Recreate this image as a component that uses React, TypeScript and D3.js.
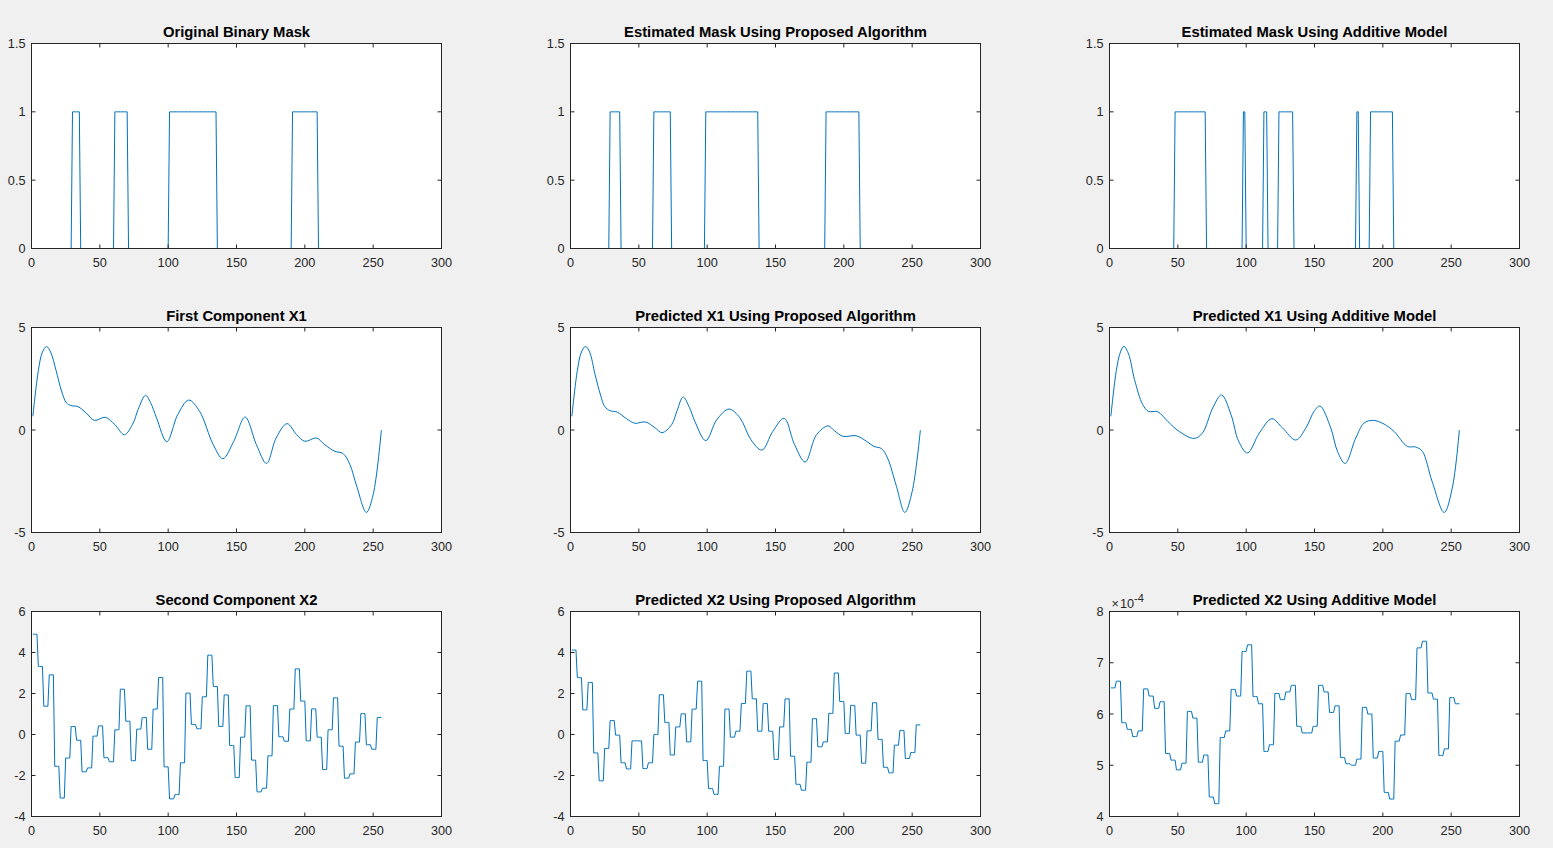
import React from 'react';
import * as d3 from 'd3';

const N = 256;
const xTicks = [0, 50, 100, 150, 200, 250, 300];
const maskTicks = [0, 0.5, 1, 1.5];
const x1Ticks = [-5, 0, 5];
const x2Ticks = [-4, -2, 0, 2, 4, 6];
const x2AddTicks = [4, 5, 6, 7, 8];

// Mask "on" intervals (sample indices where the mask equals 1)
const maskOriginalOn = [[30, 35], [61, 70], [101, 135], [191, 209]];
const maskProposedOn = [[29, 36], [61, 73], [99, 137], [187, 211]];
const maskAdditiveOn = [[48, 70], [98, 99], [113, 115], [124, 134], [181, 182], [191, 207]];

// First component X1 (sampled points of the smooth curves)
const x1OrigX = [1, 5, 8, 11, 14, 18, 22, 25.6, 29, 34, 40, 46, 54, 61, 68, 74.4, 78, 83.4, 87, 91.5, 99, 107, 115, 123, 133, 140, 148, 156.3, 164.6, 172, 179, 187, 194, 200, 208.5, 214.6, 222, 228, 233, 238, 245, 250, 256];
const x1OrigY = [0.67, 2.9, 3.8, 4.07, 3.8, 2.9, 1.9, 1.32, 1.19, 1.14, 0.83, 0.47, 0.62, 0.26, -0.23, 0.34, 1.0, 1.69, 1.35, 0.59, -0.57, 0.75, 1.46, 0.91, -0.72, -1.4, -0.55, 0.63, -0.72, -1.63, -0.39, 0.31, -0.23, -0.55, -0.39, -0.72, -1.04, -1.15, -1.69, -2.75, -4.02, -3.15, 0];

const x1PropX = [1, 5, 8, 11, 14, 18, 22, 25, 29, 34, 41, 47, 55, 62, 67, 74, 78, 82.4, 87, 91, 99, 107, 116, 124, 132, 140, 148, 156.3, 164, 171.7, 180, 188.5, 193, 199.5, 209, 216.6, 222, 227.6, 232, 238.5, 244.6, 250, 256];
const x1PropY = [0.67, 2.9, 3.8, 4.08, 3.8, 2.7, 1.7, 1.15, 0.94, 0.88, 0.55, 0.33, 0.39, 0.1, -0.13, 0.26, 0.95, 1.61, 1.1, 0.42, -0.52, 0.5, 1.02, 0.59, -0.47, -0.98, -0.07, 0.57, -0.72, -1.56, -0.23, 0.2, -0.03, -0.31, -0.28, -0.55, -0.8, -0.91, -1.37, -2.75, -4.02, -3.0, 0];

const x1AddX = [1, 5, 8, 10.5, 14, 18.3, 24.3, 28.5, 35.3, 42.6, 51, 62, 68, 75.5, 82, 88.9, 94.5, 101, 109.6, 118.8, 126.6, 136.3, 143.7, 149.7, 154, 161.9, 166.8, 172.4, 180.2, 186.3, 193, 200.9, 208.2, 217.9, 224, 228.9, 236, 244.9, 250.8, 256];
const x1AddY = [0.67, 2.9, 3.8, 4.08, 3.7, 2.46, 1.24, 0.91, 0.89, 0.42, -0.07, -0.41, -0.15, 1.07, 1.71, 0.75, -0.55, -1.12, -0.15, 0.55, 0.1, -0.49, 0.1, 0.91, 1.17, 0.1, -1.04, -1.63, -0.39, 0.34, 0.47, 0.29, -0.07, -0.8, -0.83, -1.04, -2.5, -4.02, -2.83, 0];

// Second component X2: piecewise-constant values, one per block of 4 samples
const x2OrigBlocks = [4.89, 3.32, 1.38, 2.91, -1.55, -3.1, -1.15, 0.39, -0.28, -1.82, -1.63, -0.08, 0.42, -1.13, -1.33, 0.23,
  2.21, 0.65, -1.28, 0.26, 0.83, -0.72, 1.24, 2.78, -1.58, -3.14, -2.93, -1.38, 2.02, 0.49, 0.28, 1.84,
  3.87, 2.34, 0.39, 1.93, -0.54, -2.1, -0.13, 1.4, -1.25, -2.8, -2.62, -1.04, 1.41, -0.11, -0.33, 1.24,
  3.2, 1.63, -0.31, 1.25, -0.13, -1.71, 0.23, 1.79, -0.57, -2.13, -1.92, -0.37, 1.02, -0.5, -0.72, 0.83];
const x2PropBlocks = [4.12, 2.77, 1.2, 2.54, -0.9, -2.26, -0.68, 0.68, -0.03, -1.38, -1.68, -0.31, -0.31, -1.66, -1.38, 0.0,
  1.94, 0.59, -1.0, 0.37, 1.01, -0.36, 1.24, 2.6, -1.27, -2.64, -2.92, -1.55, 1.24, -0.13, 0.16, 1.51,
  3.09, 1.74, 0.16, 1.51, 0.16, -1.22, 0.37, 1.74, -1.06, -2.43, -2.72, -1.35, 0.77, -0.6, -0.36, 1.03,
  3.0, 1.61, 0.05, 1.42, -0.03, -1.4, 0.18, 1.55, -0.24, -1.6, -1.87, -0.52, 0.2, -1.17, -0.88, 0.47];
// in units of 1e-4
const x2AddBlocks = [6.51, 6.64, 5.83, 5.7, 5.56, 5.67, 6.49, 6.35, 6.11, 6.24, 5.23, 5.1, 4.91, 5.04, 6.05, 5.92,
  5.06, 5.2, 4.38, 4.25, 5.54, 5.67, 6.48, 6.35, 7.22, 7.35, 6.34, 6.2, 5.27, 5.4, 6.4, 6.28,
  6.43, 6.56, 5.76, 5.63, 5.63, 5.76, 6.56, 6.43, 6.03, 6.16, 5.15, 5.03, 5.0, 5.12, 6.13, 6.0,
  5.14, 5.27, 4.47, 4.34, 5.47, 5.59, 6.4, 6.28, 7.29, 7.42, 6.41, 6.29, 5.19, 5.32, 6.32, 6.2];

const titles = [
  'Original Binary Mask', 'Estimated Mask Using Proposed Algorithm', 'Estimated Mask Using Additive Model',
  'First Component X1', 'Predicted X1 Using Proposed Algorithm', 'Predicted X1 Using Additive Model',
  'Second Component X2', 'Predicted X2 Using Proposed Algorithm', 'Predicted X2 Using Additive Model',
];

const maskFrom = (iv: number[][]) =>
  d3.range(1, N + 1).map((i) => [i, iv.some(([a, b]) => i >= a && i <= b) ? 1 : 0] as [number, number]);
const blocksFrom = (b: number[]) =>
  d3.range(1, N + 1).map((i) => [i, b[Math.floor((i - 1) / 4)]] as [number, number]);
const zipXY = (xs: number[], ys: number[]) => xs.map((x, i) => [x, ys[i]] as [number, number]);

const LEFTS = [31.5, 570.5, 1109.5];
const TOPS = [43.5, 327.5, 611.5];
const W = 410;
const H = 205;
const FONT = '"Liberation Sans", Arial, Helvetica, sans-serif';
const AX = '#262626';
const LINE = '#0072BD';

type PanelProps = {
  left: number; top: number; title: string; yDomain: [number, number]; yTicks: number[];
  data: [number, number][]; smooth?: boolean; exponent?: string;
};

function Panel({ left, top, title, yDomain, yTicks, data, smooth, exponent }: PanelProps) {
  const x = d3.scaleLinear().domain([0, 300]).range([left, left + W]);
  const y = d3.scaleLinear().domain(yDomain).range([top + H, top]);
  const line = d3.line<[number, number]>().x((d) => x(d[0])).y((d) => y(d[1]));
  if (smooth) line.curve(d3.curveCatmullRom.alpha(0.5));
  const tl = 4;
  return (
    <g>
      <rect x={left} y={top} width={W} height={H} fill="#fff" />
      <path d={line(data) || ''} fill="none" stroke={LINE} strokeWidth={1} />
      <rect x={left} y={top} width={W} height={H} fill="none" stroke={AX} strokeWidth={1} />
      {xTicks.map((t) => (
        <g key={'x' + t}>
          <line x1={x(t)} x2={x(t)} y1={top + H} y2={top + H - tl} stroke={AX} />
          <line x1={x(t)} x2={x(t)} y1={top} y2={top + tl} stroke={AX} />
          <text x={x(t)} y={top + H + 18} textAnchor="middle" fontSize={12.7} fill={AX} fontFamily={FONT}>{t}</text>
        </g>
      ))}
      {yTicks.map((t) => (
        <g key={'y' + t}>
          <line x1={left} x2={left + tl} y1={y(t)} y2={y(t)} stroke={AX} />
          <line x1={left + W} x2={left + W - tl} y1={y(t)} y2={y(t)} stroke={AX} />
          <text x={left - 6} y={y(t)} dy="0.36em" textAnchor="end" fontSize={12.7} fill={AX} fontFamily={FONT}>{String(t)}</text>
        </g>
      ))}
      {exponent && (
        <text x={left + 2} y={top - 3.5} fontSize={12.7} fill={AX} fontFamily={FONT}>
          {'\u00d7'}
          <tspan dx={1}>10</tspan>
          <tspan dy={-6} fontSize={11}>{exponent}</tspan>
        </text>
      )}
      <text x={left + W / 2} y={top - 7} textAnchor="middle" fontSize={14.8} fontWeight="bold" fill="#000" fontFamily={FONT}>{title}</text>
    </g>
  );
}

export default function App() {
  const panels: PanelProps[] = [
    { left: LEFTS[0], top: TOPS[0], title: titles[0], yDomain: [0, 1.5], yTicks: maskTicks, data: maskFrom(maskOriginalOn) },
    { left: LEFTS[1], top: TOPS[0], title: titles[1], yDomain: [0, 1.5], yTicks: maskTicks, data: maskFrom(maskProposedOn) },
    { left: LEFTS[2], top: TOPS[0], title: titles[2], yDomain: [0, 1.5], yTicks: maskTicks, data: maskFrom(maskAdditiveOn) },
    { left: LEFTS[0], top: TOPS[1], title: titles[3], yDomain: [-5, 5], yTicks: x1Ticks, data: zipXY(x1OrigX, x1OrigY), smooth: true },
    { left: LEFTS[1], top: TOPS[1], title: titles[4], yDomain: [-5, 5], yTicks: x1Ticks, data: zipXY(x1PropX, x1PropY), smooth: true },
    { left: LEFTS[2], top: TOPS[1], title: titles[5], yDomain: [-5, 5], yTicks: x1Ticks, data: zipXY(x1AddX, x1AddY), smooth: true },
    { left: LEFTS[0], top: TOPS[2], title: titles[6], yDomain: [-4, 6], yTicks: x2Ticks, data: blocksFrom(x2OrigBlocks) },
    { left: LEFTS[1], top: TOPS[2], title: titles[7], yDomain: [-4, 6], yTicks: x2Ticks, data: blocksFrom(x2PropBlocks) },
    { left: LEFTS[2], top: TOPS[2], title: titles[8], yDomain: [4, 8], yTicks: x2AddTicks, data: blocksFrom(x2AddBlocks), exponent: '-4' },
  ];
  return (
    <svg width={1553} height={848} style={{ position: 'absolute', left: 0, top: 0, display: 'block' }}>
      <rect width={1553} height={848} fill="#f0f0f0" />
      {panels.map((p, i) => <Panel key={i} {...p} />)}
    </svg>
  );
}
